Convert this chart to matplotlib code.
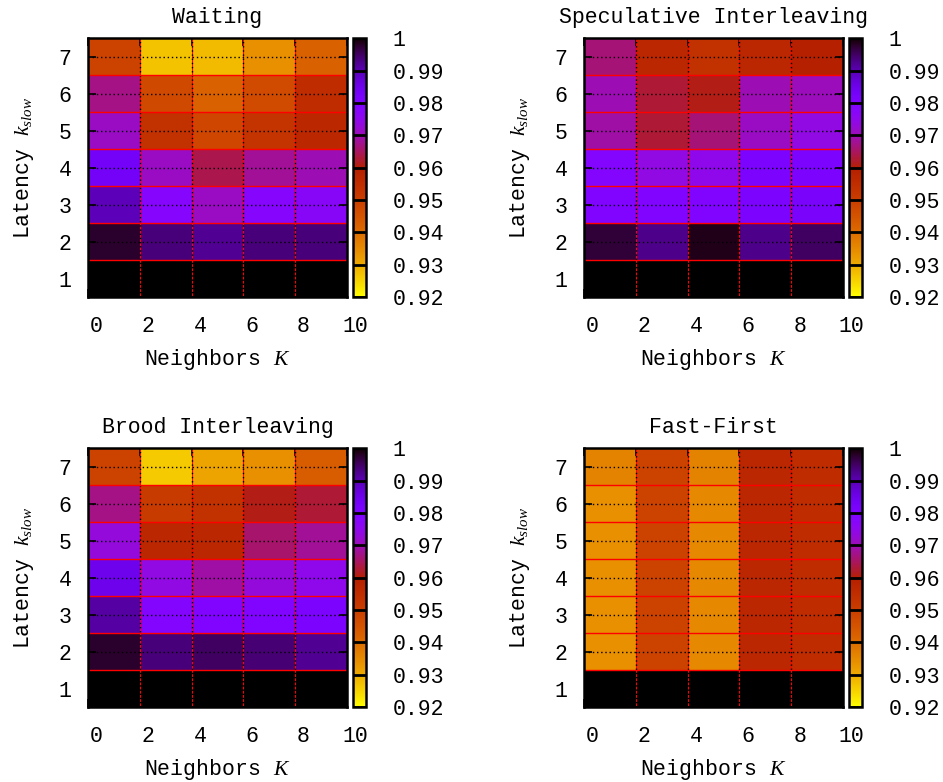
import matplotlib as mpl
import matplotlib.pyplot as plt
import numpy as np
from matplotlib.colors import ListedColormap, Normalize
from matplotlib.transforms import ScaledTranslation

mpl.rcParams["font.family"] = "Liberation Mono"
mpl.rcParams["mathtext.fontset"] = "custom"
mpl.rcParams["mathtext.it"] = "Liberation Serif:italic"
mpl.rcParams["mathtext.rm"] = "Liberation Serif"
mpl.rcParams["font.size"] = 15.5

# -------------------------------------
# Data: rows are k_slow = 1..7, columns are the K bins
# -------------------------------------

K_EDGES = [0, 2, 4, 6, 8, 10]
KSLOW = [1, 2, 3, 4, 5, 6, 7]
CB_TICKS = [0.92, 0.93, 0.94, 0.95, 0.96, 0.97, 0.98, 0.99, 1.0]
CB_LABELS = ["0.92", "0.93", "0.94", "0.95", "0.96", "0.97", "0.98", "0.99", "1"]

waiting = [
    [1.0, 1.0, 1.0, 1.0, 1.0],
    [0.9976, 0.9936, 0.992, 0.9936, 0.9935],
    [0.9896, 0.978, 0.971, 0.978, 0.977],
    [0.983, 0.971, 0.964, 0.968, 0.970],
    [0.971, 0.954, 0.948, 0.953, 0.957],
    [0.967, 0.9475, 0.942, 0.947, 0.9555],
    [0.949, 0.927, 0.928, 0.934, 0.942],
]

speculative = [
    [1.0, 1.0, 1.0, 1.0, 1.0],
    [0.997, 0.9925, 0.9985, 0.9926, 0.995],
    [0.980, 0.980, 0.980, 0.981, 0.982],
    [0.979, 0.974, 0.975, 0.981, 0.981],
    [0.969, 0.9625, 0.966, 0.971, 0.974],
    [0.970, 0.9625, 0.961, 0.970, 0.9705],
    [0.966, 0.9575, 0.954, 0.9575, 0.9595],
]

brood = [
    [1.0, 1.0, 1.0, 1.0, 1.0],
    [0.9975, 0.9935, 0.995, 0.994, 0.992],
    [0.991, 0.979, 0.980, 0.980, 0.981],
    [0.985, 0.974, 0.969, 0.973, 0.975],
    [0.973, 0.9575, 0.9575, 0.9655, 0.968],
    [0.967, 0.951, 0.954, 0.961, 0.9625],
    [0.949, 0.926, 0.931, 0.934, 0.943],
]

fast_first = [
    [1.0, 1.0, 1.0, 1.0, 1.0],
    [0.934, 0.949, 0.935, 0.9575, 0.9555],
    [0.934, 0.949, 0.935, 0.9575, 0.9555],
    [0.934, 0.949, 0.935, 0.9575, 0.9555],
    [0.934, 0.949, 0.935, 0.9575, 0.9555],
    [0.934, 0.949, 0.935, 0.9575, 0.9555],
    [0.936, 0.949, 0.936, 0.9575, 0.9555],
]

panels = [
    ("Waiting", waiting),
    ("Speculative Interleaving", speculative),
    ("Brood Interleaving", brood),
    ("Fast-First", fast_first),
]

# -------------------------------------
# gnuplot's default palette (rgbformulae 7,5,15), run backwards
# -------------------------------------

t = np.linspace(1, 0, 256)
palette = np.stack(
    [np.sqrt(t), t**3, np.clip(np.sin(2 * np.pi * t), 0, 1)], axis=1
)
cmap = ListedColormap(palette)
norm = Normalize(vmin=0.92, vmax=1.0)

# -------------------------------------
# Plotting
# -------------------------------------

fig = plt.figure(figsize=(9.43, 7.82), dpi=100)

ax_left = [0.0933, 0.6193]
cb_left = [0.3743, 0.9003]
ax_bottom = [0.6202, 0.0959]
ax_w, ax_h = 0.2747, 0.3310

y_edges = np.arange(len(KSLOW) + 1) + 0.5

for i, (title, values) in enumerate(panels):
    row, col = divmod(i, 2)
    ax = fig.add_axes([ax_left[col], ax_bottom[row], ax_w, ax_h])
    cax = fig.add_axes([cb_left[col], ax_bottom[row], 0.0138, ax_h])

    mesh = ax.pcolormesh(K_EDGES, y_edges, np.array(values), cmap=cmap, norm=norm)

    ax.set_xlim(0, 10)
    ax.set_ylim(0.5, 7.5)
    ax.set_xticks(K_EDGES)
    ax.set_yticks(KSLOW)
    ax.tick_params(
        direction="in", length=6, width=1.2, top=True, right=True, pad=14
    )
    ax.tick_params(axis="y", pad=12)

    # red cell borders, then the dotted grid on top
    for x in K_EDGES[1:-1]:
        ax.axvline(x, color="#ff0000", linewidth=0.8)
        ax.axvline(x, color="black", linestyle=(0, (1, 2)), linewidth=1.0)
    for y in y_edges[1:-1]:
        ax.axhline(y, color="#ff0000", linewidth=1.0)
    for y in KSLOW[1:]:
        ax.axhline(y, color="black", linestyle=(0, (1, 2)), linewidth=1.0)

    for spine in ax.spines.values():
        spine.set_linewidth(1.8)
        spine.set_zorder(5)

    offset = ScaledTranslation(6 / 72, 0, fig.dpi_scale_trans)
    for lbl in ax.get_xticklabels():
        lbl.set_transform(lbl.get_transform() + offset)

    ax.set_title(title, pad=11, fontsize=15.5)
    ax.set_xlabel("Neighbors $K$", labelpad=7)
    ax.set_ylabel("Latency $k_{slow}$", labelpad=16)

    cb = fig.colorbar(mesh, cax=cax)
    cb.set_ticks(CB_TICKS)
    cb.set_ticklabels(CB_LABELS)
    cax.tick_params(length=0, pad=19)
    for v in CB_TICKS:
        cax.axhline(v, color="black", linewidth=2.0)
    cb.outline.set_linewidth(1.8)

fig.savefig("out.png", dpi=100)
